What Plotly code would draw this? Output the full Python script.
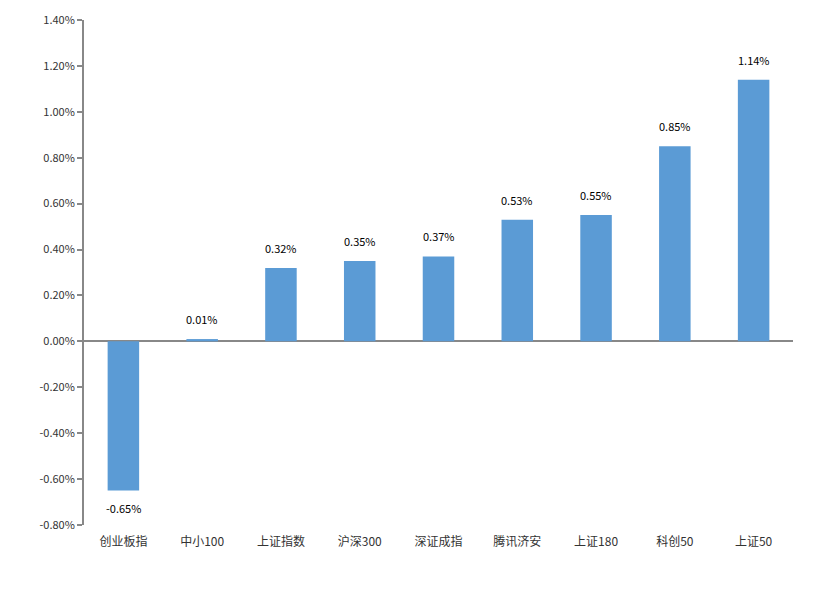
import plotly.graph_objects as go

categories = ["创业板指", "中小100", "上证指数", "沪深300", "深证成指", "腾讯济安", "上证180", "科创50", "上证50"]
values = [-0.65, 0.01, 0.32, 0.35, 0.37, 0.53, 0.55, 0.85, 1.14]
tick_vals = [-0.8, -0.6, -0.4, -0.2, 0.0, 0.2, 0.4, 0.6, 0.8, 1.0, 1.2, 1.4]
tick_text = ["-0.80%", "-0.60%", "-0.40%", "-0.20%", "0.00%", "0.20%", "0.40%", "0.60%", "0.80%", "1.00%", "1.20%", "1.40%"]

FONT = "Noto Sans CJK SC, DejaVu Sans, sans-serif"

fig = go.Figure()
fig.add_trace(go.Bar(
    x=categories, y=values,
    marker=dict(color="#5b9bd5", line=dict(width=0)),
    width=0.4,
    hoverinfo="skip",
))

for c, v in zip(categories, values):
    fig.add_annotation(
        x=c, y=v, text=f"{v:.2f}%", showarrow=False,
        yshift=20 if v >= 0 else -17,
        font=dict(family=FONT, size=11, color="#000000"),
    )

fig.update_layout(
    width=818, height=600,
    margin=dict(l=76, r=33, t=12, b=83),
    plot_bgcolor="white", paper_bgcolor="white",
    showlegend=False,
    bargap=0.6,
    font=dict(family=FONT, size=11, color="#333333"),
)
fig.update_xaxes(
    showline=False, showgrid=False, zeroline=False, automargin=False,
    ticks="", tickfont=dict(family=FONT, size=12, color="#333333"),
    ticklabelstandoff=8,
)
fig.update_yaxes(
    range=[-0.8, 1.4], tickvals=tick_vals, ticktext=tick_text, automargin=False,
    showgrid=False, showline=True, linecolor="#888888", linewidth=2,
    ticks="outside", ticklen=5, tickcolor="#888888", tickwidth=2,
    zeroline=True, zerolinecolor="#888888", zerolinewidth=2,
    tickfont=dict(family=FONT, size=11, color="#333333"),
)

fig.write_html("out.html")
